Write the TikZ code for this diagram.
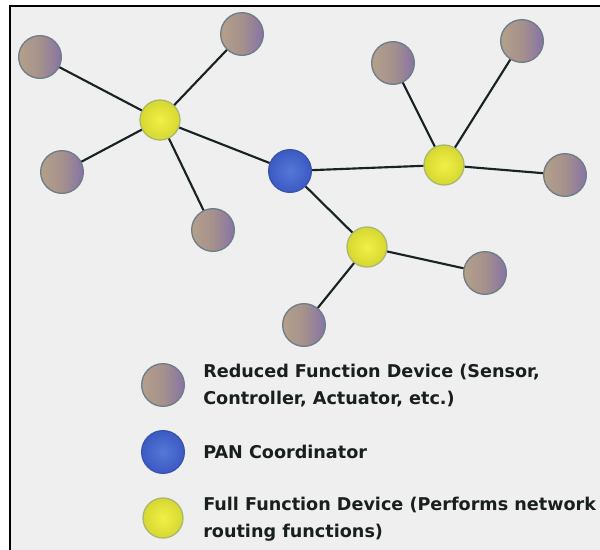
\documentclass[tikz,border=0pt]{standalone}
\usepackage{fontspec}
\setmainfont{DejaVu Sans}
\begin{document}
\begin{tikzpicture}[x=0.75pt,y=-0.75pt,
  rfd/.style={circle,minimum size=32pt,inner sep=0pt,draw=gsedge,line width=1pt,left color=gsleft,right color=gsright,middle color=gsmid},
  pan/.style={circle,minimum size=32pt,inner sep=0pt,draw=bledge,line width=1pt,inner color=blin,outer color=blout},
  ffd/.style={circle,minimum size=30pt,inner sep=0pt,draw=yledge,line width=1pt,inner color=ylin,outer color=ylout},
  link/.style={line width=1.6pt,draw=linkcol},
  legtext/.style={anchor=west,align=left,font=\bfseries\fontsize{13.2pt}{20.25pt}\selectfont,text=txtcol,inner sep=0pt}
]
\definecolor{bgc}{RGB}{239,239,239}
\definecolor{gsleft}{RGB}{180,160,138}
\definecolor{gsmid}{RGB}{165,145,140}
\definecolor{gsright}{RGB}{135,115,165}
\definecolor{gsedge}{RGB}{110,125,135}
\definecolor{blin}{RGB}{85,120,215}
\definecolor{blout}{RGB}{60,90,195}
\definecolor{bledge}{RGB}{55,85,175}
\definecolor{ylin}{RGB}{240,240,70}
\definecolor{ylout}{RGB}{215,215,50}
\definecolor{yledge}{RGB}{170,185,110}
\definecolor{linkcol}{RGB}{25,35,35}
\definecolor{txtcol}{RGB}{25,30,30}
\fill[white] (0,0) rectangle (600,550);
\useasboundingbox (0,0) rectangle (600,550);
\fill[bgc] (10,6) rectangle (600,550);
\draw[line width=1.5pt] (10,550) -- (10,6) -- (600,6);

\node[ffd] (y1) at (160,120) {};
\node[ffd] (y2) at (444,165) {};
\node[ffd] (y3) at (367,247) {};
\node[pan] (pan) at (290,171) {};
\node[rfd] (g1) at (40,57) {};
\node[rfd] (g2) at (242,34) {};
\node[rfd] (g3) at (62,172) {};
\node[rfd] (g4) at (213,230) {};
\node[rfd] (g5) at (393,63) {};
\node[rfd] (g6) at (522,41) {};
\node[rfd] (g7) at (565,175) {};
\node[rfd] (g8) at (485,273) {};
\node[rfd] (g9) at (304,325) {};

\draw[link] (y1) -- (g1);
\draw[link] (y1) -- (g2);
\draw[link] (y1) -- (g3);
\draw[link] (y1) -- (g4);
\draw[link] (y1) -- (pan);
\draw[link] (pan) -- (y2);
\draw[link] (pan) -- (y3);
\draw[link] (y2) -- (g5);
\draw[link] (y2) -- (g6);
\draw[link] (y2) -- (g7);
\draw[link] (y3) -- (g8);
\draw[link] (y3) -- (g9);

\node[rfd] (lg) at (163,385) {};
\node[pan] (lb) at (163,452) {};
\node[ffd] (ly) at (163,518) {};
\node[legtext] (t1) at (203,386) {Reduced Function Device (Sensor,\\Controller, Actuator, etc.)};
\node[legtext] (t2) at (203,452) {PAN Coordinator};
\node[legtext] (t3) at (203,519) {Full Function Device (Performs network\\routing functions)};
\end{tikzpicture}
\end{document}
